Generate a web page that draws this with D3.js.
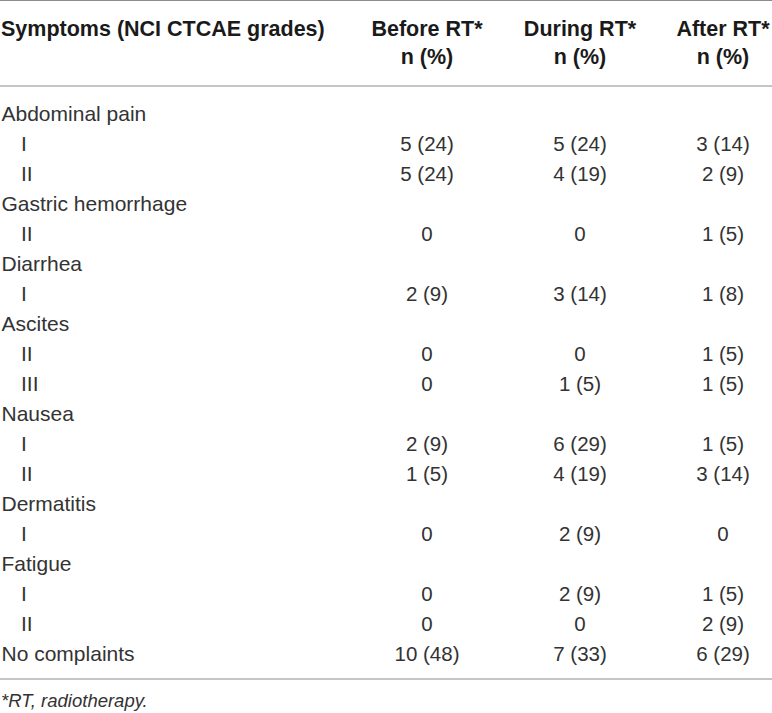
<!DOCTYPE html>
<html>
<head>
<meta charset="utf-8">
<script src="https://cdn.jsdelivr.net/npm/d3@7"></script>
<style>
  body { margin: 0; background: #fff; }
  text { font-family: "Liberation Sans", Arial, sans-serif; }
</style>
</head>
<body>
<div id="table"></div>
<script>
// table content
const rowLabels = ["Abdominal pain", "I", "II", "Gastric hemorrhage", "II", "Diarrhea", "I",
  "Ascites", "II", "III", "Nausea", "I", "II", "Dermatitis", "I", "Fatigue", "I", "II", "No complaints"];
const isGrade = [0, 1, 1, 0, 1, 0, 1, 0, 1, 1, 0, 1, 1, 0, 1, 0, 1, 1, 0];

const columns = ["Before RT*", "During RT*", "After RT*"];
const subHeader = "n (%)";

// n and percent per column, null where the cell is empty
const beforeN   = [null, 5, 5, null, 0, null, 2, null, 0, 0, null, 2, 1, null, 0, null, 0, 0, 10];
const beforePct = [null, 24, 24, null, null, null, 9, null, null, null, null, 9, 5, null, null, null, null, null, 48];
const duringN   = [null, 5, 4, null, 0, null, 3, null, 0, 1, null, 6, 4, null, 2, null, 2, 0, 7];
const duringPct = [null, 24, 19, null, null, null, 14, null, null, 5, null, 29, 19, null, 9, null, 9, null, 33];
const afterN    = [null, 3, 2, null, 1, null, 1, null, 1, 1, null, 1, 3, null, 0, null, 1, 2, 6];
const afterPct  = [null, 14, 9, null, 5, null, 8, null, 5, 5, null, 5, 14, null, null, null, 5, 9, 29];

const footnote = "*RT, radiotherapy.";

const seriesN = [beforeN, duringN, afterN];
const seriesPct = [beforePct, duringPct, afterPct];

const width = 772, height = 713;

const svg = d3.select("#table").append("svg")
  .attr("width", width)
  .attr("height", height);

// row baselines
const y = d3.scalePoint()
  .domain(d3.range(rowLabels.length))
  .range([121, 661]);

// column centres
const x = d3.scaleOrdinal()
  .domain(columns)
  .range([427, 580, 723]);

const lineColor = "#8c8c8c";
[0.5, 86, 679].forEach(ly => {
  svg.append("line")
    .attr("x1", 0).attr("x2", width)
    .attr("y1", ly).attr("y2", ly)
    .attr("stroke", lineColor)
    .attr("stroke-width", 1.2);
});

// header
svg.append("text")
  .attr("x", 1).attr("y", 35.5)
  .attr("font-size", 21.5)
  .attr("font-weight", "bold")
  .attr("fill", "#1a1a1a")
  .text("Symptoms (NCI CTCAE grades)");

columns.forEach(c => {
  svg.append("text")
    .attr("x", x(c)).attr("y", 35.5)
    .attr("text-anchor", "middle")
    .attr("font-size", 21.5)
    .attr("font-weight", "bold")
    .attr("fill", "#1a1a1a")
    .text(c);
  svg.append("text")
    .attr("x", x(c)).attr("y", 63.5)
    .attr("text-anchor", "middle")
    .attr("font-size", 21.5)
    .attr("font-weight", "bold")
    .attr("fill", "#1a1a1a")
    .text(subHeader);
});

// row labels
svg.selectAll("text.label")
  .data(rowLabels)
  .enter().append("text")
  .attr("class", "label")
  .attr("x", (d, i) => isGrade[i] ? 21 : 1.5)
  .attr("y", (d, i) => y(i))
  .attr("font-size", 21)
  .attr("fill", "#333")
  .text(d => d);

// cells
function cellText(n, p) {
  if (n === null) return "";
  return p === null ? `${n}` : `${n} (${p})`;
}

columns.forEach((c, ci) => {
  svg.selectAll(`text.cell${ci}`)
    .data(seriesN[ci])
    .enter().append("text")
    .attr("class", `cell${ci}`)
    .attr("x", x(c))
    .attr("y", (d, i) => y(i))
    .attr("text-anchor", "middle")
    .attr("font-size", 20.5)
    .attr("fill", "#333")
    .text((d, i) => cellText(d, seriesPct[ci][i]));
});

svg.append("text")
  .attr("x", 1).attr("y", 707)
  .attr("font-size", 18.5)
  .attr("font-style", "italic")
  .attr("fill", "#333")
  .text(footnote);
</script>
</body>
</html>
